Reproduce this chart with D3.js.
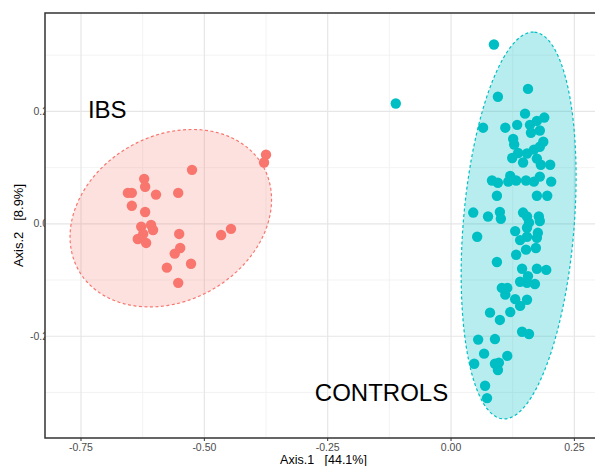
<!DOCTYPE html>
<html>
<head>
<meta charset="utf-8">
<script src="https://cdn.jsdelivr.net/npm/d3@7"></script>
<style>
  body { margin: 0; background: #fff; }
  text { font-family: "Liberation Sans", Arial, sans-serif; }
</style>
</head>
<body>
<svg width="595" height="466"></svg>
<script>
const width = 595;
const height = 466;

// PCoA coordinates (Axis.1, Axis.2)
const ibsX = [-0.375, -0.379, -0.525, -0.622, -0.620, -0.655, -0.647, -0.598, -0.553, -0.647,
  -0.620, -0.628, -0.608, -0.604, -0.624, -0.635, -0.618, -0.551, -0.466, -0.446,
  -0.549, -0.560, -0.527, -0.576, -0.553];
const ibsY = [0.123, 0.109, 0.096, 0.080, 0.066, 0.055, 0.055, 0.052, 0.055, 0.032,
  0.021, -0.005, -0.002, -0.011, -0.018, -0.027, -0.034, -0.018, -0.020, -0.009,
  -0.043, -0.053, -0.071, -0.078, -0.105];

const ctrlX = [0.087, -0.112, 0.156, 0.095, 0.150, 0.189, 0.174, 0.065, 0.110, 0.134,
  0.160, 0.180, 0.162, 0.126, 0.128, 0.187, 0.180, 0.168, 0.154, 0.136,
  0.124, 0.146, 0.174, 0.182, 0.201, 0.083, 0.095, 0.120, 0.116, 0.132,
  0.152, 0.168, 0.180, 0.203, 0.093, 0.174, 0.195, 0.045, 0.075, 0.099,
  0.101, 0.146, 0.154, 0.178, 0.180, 0.158, 0.130, 0.154, 0.176, 0.053,
  0.140, 0.154, 0.174, 0.152, 0.172, 0.132, 0.093, 0.144, 0.156, 0.174,
  0.193, 0.140, 0.154, 0.170, 0.103, 0.114, 0.110, 0.130, 0.154, 0.140,
  0.079, 0.099, 0.120, 0.144, 0.158, 0.055, 0.089, 0.067, 0.114, 0.047,
  0.089, 0.097, 0.095, 0.069, 0.073];
const ctrlY = [0.319, 0.214, 0.240, 0.226, 0.196, 0.189, 0.183, 0.171, 0.171, 0.176,
  0.176, 0.166, 0.162, 0.151, 0.141, 0.146, 0.137, 0.132, 0.125, 0.126,
  0.117, 0.109, 0.116, 0.105, 0.105, 0.077, 0.073, 0.085, 0.075, 0.077,
  0.077, 0.075, 0.084, 0.075, 0.050, 0.050, 0.050, 0.020, 0.013, 0.021,
  0.009, 0.020, 0.013, 0.013, 0.005, 0.002, -0.013, -0.007, -0.016, -0.023,
  -0.029, -0.023, -0.025, -0.046, -0.043, -0.055, -0.068, -0.080, -0.093, -0.080,
  -0.082, -0.103, -0.105, -0.107, -0.114, -0.114, -0.126, -0.134, -0.135, -0.146,
  -0.158, -0.171, -0.157, -0.192, -0.196, -0.206, -0.205, -0.231, -0.235, -0.249,
  -0.249, -0.247, -0.260, -0.288, -0.310];

// 95% ellipses: centre, then two conjugate semi-axes (data units)
const ibsEllipse = [-0.568, 0.010, 0.188, 0.091, 0.080, -0.129];
const ctrlEllipse = [0.137, -0.003, 0.032, 0.344, 0.112, -0.008];

const xTicks = [-0.75, -0.5, -0.25, 0, 0.25];
const xTickLabels = ["-0.75", "-0.50", "-0.25", "0.00", "0.25"];
const yTicks = [0.2, 0, -0.2];
const yTickLabels = ["0.2", "0.0", "-0.2"];

const groupNames = ["IBS", "CONTROLS"];
const groupLabelX = [-0.736, -0.276];
const groupLabelY = [0.189, -0.315];

const colors = ["#F8766D", "#00BFC4"];

const panel = { left: 45, right: 602, top: 13, bottom: 438 };

const x = d3.scaleLinear().domain([-0.823, 0.306]).range([panel.left, panel.right]);
const y = d3.scaleLinear().domain([-0.381, 0.375]).range([panel.bottom, panel.top]);

const svg = d3.select("svg");

// y tick labels first, the panel covers their right edge like in the original
svg.append("g")
  .selectAll("text")
  .data(yTicks)
  .enter().append("text")
  .attr("x", 48)
  .attr("y", d => y(d))
  .attr("dy", ".35em")
  .attr("text-anchor", "end")
  .attr("font-size", 10.5)
  .attr("fill", "#4d4d4d")
  .text((d, i) => yTickLabels[i]);

svg.append("rect")
  .attr("x", panel.left)
  .attr("y", panel.top)
  .attr("width", panel.right - panel.left)
  .attr("height", panel.bottom - panel.top)
  .attr("fill", "#fff");

svg.append("clipPath").attr("id", "clip")
  .append("rect")
  .attr("x", panel.left)
  .attr("y", panel.top)
  .attr("width", panel.right - panel.left)
  .attr("height", panel.bottom - panel.top);

const grid = svg.append("g");
const minorX = xTicks.slice(0, -1).map((d, i) => (d + xTicks[i + 1]) / 2).concat([0.375]);
const minorY = [0.3, 0.1, -0.1, -0.3];

grid.selectAll(".minor-x")
  .data(minorX)
  .enter().append("line")
  .attr("x1", d => x(d)).attr("x2", d => x(d))
  .attr("y1", panel.top).attr("y2", panel.bottom)
  .attr("stroke", "#f0f0f0").attr("stroke-width", 0.8);

grid.selectAll(".minor-y")
  .data(minorY)
  .enter().append("line")
  .attr("x1", panel.left).attr("x2", panel.right)
  .attr("y1", d => y(d)).attr("y2", d => y(d))
  .attr("stroke", "#f0f0f0").attr("stroke-width", 0.8);

grid.selectAll(".major-x")
  .data(xTicks)
  .enter().append("line")
  .attr("x1", d => x(d)).attr("x2", d => x(d))
  .attr("y1", panel.top).attr("y2", panel.bottom)
  .attr("stroke", "#e6e6e6").attr("stroke-width", 1.2);

grid.selectAll(".major-y")
  .data(yTicks)
  .enter().append("line")
  .attr("x1", panel.left).attr("x2", panel.right)
  .attr("y1", d => y(d)).attr("y2", d => y(d))
  .attr("stroke", "#e6e6e6").attr("stroke-width", 1.2);

const plot = svg.append("g").attr("clip-path", "url(#clip)");

// ellipses
const ellipses = [ibsEllipse, ctrlEllipse];
const line = d3.line().x(d => x(d[0])).y(d => y(d[1]));
const steps = d3.range(0, 101).map(i => i / 100 * 2 * Math.PI);

plot.selectAll(".ellipse")
  .data(ellipses)
  .enter().append("path")
  .attr("class", "ellipse")
  .attr("d", e => line(steps.map(t => [
    e[0] + e[2] * Math.cos(t) + e[4] * Math.sin(t),
    e[1] + e[3] * Math.cos(t) + e[5] * Math.sin(t)
  ])) + "Z")
  .attr("fill", (e, i) => colors[i])
  .attr("fill-opacity", (e, i) => i === 0 ? 0.22 : 0.28)
  .attr("stroke", (e, i) => colors[i])
  .attr("stroke-width", 1.2)
  .attr("stroke-dasharray", "3,2.5");

// points
const groups = [
  ibsX.map((d, i) => [d, ibsY[i]]),
  ctrlX.map((d, i) => [d, ctrlY[i]])
];

groups.forEach((pts, g) => {
  plot.append("g")
    .selectAll("circle")
    .data(pts)
    .enter().append("circle")
    .attr("cx", d => x(d[0]))
    .attr("cy", d => y(d[1]))
    .attr("r", 5.2)
    .attr("fill", colors[g]);
});

// group labels
plot.selectAll(".group-label")
  .data(groupNames)
  .enter().append("text")
  .attr("x", (d, i) => x(groupLabelX[i]))
  .attr("y", (d, i) => y(groupLabelY[i]))
  .attr("font-size", 24)
  .attr("fill", "#000")
  .text(d => d);

// panel border
svg.append("rect")
  .attr("x", panel.left)
  .attr("y", panel.top)
  .attr("width", panel.right - panel.left)
  .attr("height", panel.bottom - panel.top)
  .attr("fill", "none")
  .attr("stroke", "#333")
  .attr("stroke-width", 1.5);

// x axis ticks + labels
const xAxis = svg.append("g");
xAxis.selectAll("line")
  .data(xTicks)
  .enter().append("line")
  .attr("x1", d => x(d)).attr("x2", d => x(d))
  .attr("y1", panel.bottom).attr("y2", panel.bottom + 3)
  .attr("stroke", "#333").attr("stroke-width", 1);

xAxis.selectAll("text")
  .data(xTicks)
  .enter().append("text")
  .attr("x", d => x(d))
  .attr("y", panel.bottom + 12.5)
  .attr("text-anchor", "middle")
  .attr("font-size", 10.5)
  .attr("fill", "#4d4d4d")
  .text((d, i) => xTickLabels[i]);

// axis titles
svg.append("text")
  .attr("x", (panel.left + panel.right) / 2)
  .attr("y", 463.5)
  .attr("text-anchor", "middle")
  .attr("font-size", 12.5)
  .attr("fill", "#000")
  .style("white-space", "pre")
  .text("Axis.1   [44.1%]");

svg.append("text")
  .attr("transform", "translate(23," + ((panel.top + panel.bottom) / 2) + ") rotate(-90)")
  .attr("text-anchor", "middle")
  .attr("font-size", 13)
  .attr("fill", "#000")
  .style("white-space", "pre")
  .text("Axis.2   [8.9%]");
</script>
</body>
</html>
